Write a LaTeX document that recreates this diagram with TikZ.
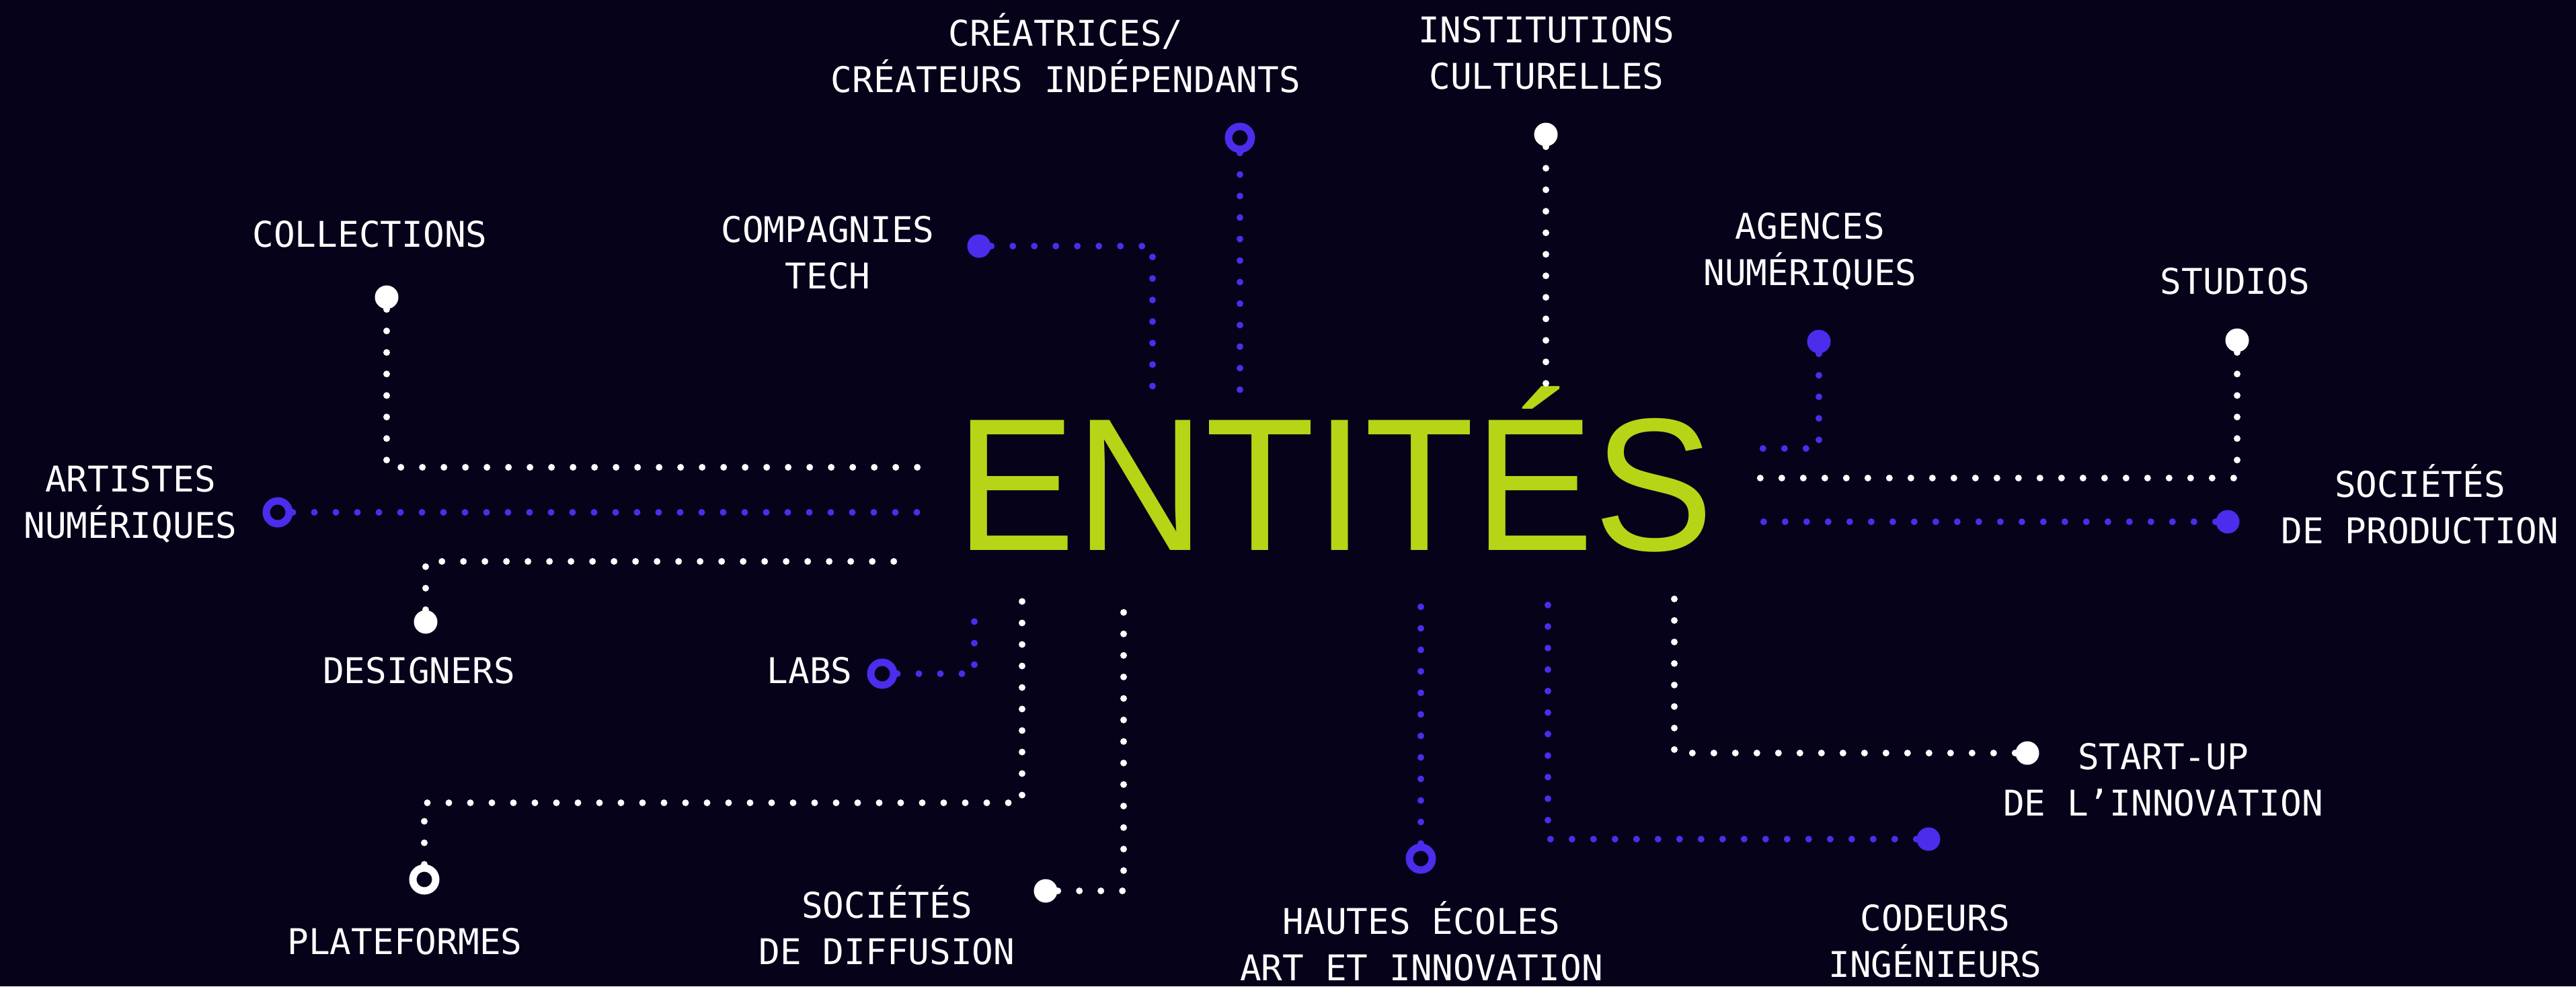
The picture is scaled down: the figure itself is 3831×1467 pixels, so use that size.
\documentclass[tikz,border=0pt]{standalone}
\usepackage{fontspec}
\usetikzlibrary{positioning,calc}
\newfontfamily\tagfont{DejaVu Sans Mono}
\newfontfamily\titlefont[FakeStretch=0.95]{Liberation Sans}
\definecolor{mynight}{RGB}{5,2,26}
\definecolor{myblue}{RGB}{75,45,235}
\definecolor{mygreen}{RGB}{184,212,22}

\begin{document}
\begin{tikzpicture}[x=0.1mm, y=-0.1mm,
  dotline/.style={line width=1mm, line cap=round, dash pattern=on 0pt off 3.2mm},
  fulldot/.style={circle, fill=#1, minimum size=3.5mm, inner sep=0pt},
  ringdot/.style={circle, draw=#1, line width=1.1mm, minimum size=3.4mm, inner sep=0pt},
  tag/.style={text=white, font=\tagfont\fontsize{15}{19.6}\selectfont, align=center, inner sep=0pt}]
\fill[mynight] (0,0) rectangle (3831,1467);
\useasboundingbox (0,0) rectangle (3831,1467);
\node[text=mygreen, font=\titlefont\fontsize{80}{80}\selectfont, anchor=base, inner sep=0pt] (title) at (1985,818) {ENTITÉS};

% end points
\node[fulldot=white ] (collections)  at (575,442)   {};
\node[ringdot=myblue] (artistes)     at (413,762)   {};
\node[fulldot=white ] (designers)    at (633,925)   {};
\node[ringdot=white ] (plateformes)  at (631,1308)  {};
\node[ringdot=myblue] (labs)         at (1312,1002) {};
\node[fulldot=white ] (diffusion)    at (1555,1325) {};
\node[fulldot=myblue] (compagnies)   at (1456,366)  {};
\node[ringdot=myblue] (createurs)    at (1844,205)  {};
\node[fulldot=white ] (institutions) at (2299,200)  {};
\node[fulldot=myblue] (agences)      at (2705,508)  {};
\node[fulldot=white ] (studios)      at (3327,506)  {};
\node[fulldot=myblue] (production)   at (3313,776)  {};
\node[fulldot=white ] (startup)      at (3015,1120) {};
\node[fulldot=myblue] (codeurs)      at (2868,1248) {};
\node[ringdot=myblue] (hautes)       at (2113,1277) {};

% labels
\node[tag] (tcollections)  at (550,348)   {COLLECTIONS};
\node[tag] (tartistes)     at (194,750)   {ARTISTES\\NUMÉRIQUES};
\node[tag] (tdesigners)    at (623,997)   {DESIGNERS};
\node[tag] (tplateformes)  at (602,1400)  {PLATEFORMES};
\node[tag] (tlabs)         at (1204,997)  {LABS};
\node[tag] (tdiffusion)    at (1319,1376) {SOCIÉTÉS\\DE DIFFUSION};
\node[tag] (tcompagnies)   at (1231,376)  {COMPAGNIES\\TECH};
\node[tag] (tcreateurs)    at (1585,79)   {CRÉATRICES/\\CRÉATEURS INDÉPENDANTS};
\node[tag] (tinstitutions) at (2300,79)   {INSTITUTIONS\\CULTURELLES};
\node[tag] (tagences)      at (2692,374)  {AGENCES\\NUMÉRIQUES};
\node[tag] (tstudios)      at (3324,418)  {STUDIOS};
\node[tag] (tproduction)   at (3599,750)  {SOCIÉTÉS\\DE PRODUCTION};
\node[tag] (tstartup)      at (3217,1160) {START-UP\\DE L’INNOVATION};
\node[tag] (tcodeurs)      at (2878,1400) {CODEURS\\INGÉNIEURS};
\node[tag] (thautes)       at (2114,1400) {HAUTES ÉCOLES\\ART ET INNOVATION};

% corners and loose ends of the dotted lines
\coordinate (collections1) at (575,695);  \coordinate (collections2) at (1375,695);
\coordinate (artistes1)    at (1375,762);
\coordinate (designers1)   at (633,835);  \coordinate (designers2)   at (1350,835);
\coordinate (plateformes1) at (631,1194); \coordinate (plateformes2) at (1520,1194);
\coordinate (plateformes3) at (1520,885);
\coordinate (labs1)        at (1449,1002); \coordinate (labs2)       at (1449,915);
\coordinate (diffusion1)   at (1671,1325); \coordinate (diffusion2)  at (1671,885);
\coordinate (compagnies1)  at (1714,366);  \coordinate (compagnies2) at (1714,585);
\coordinate (createurs1)   at (1844,590);
\coordinate (institutions1) at (2299,585);
\coordinate (agences1)     at (2705,667);  \coordinate (agences2)    at (2610,667);
\coordinate (studios1)     at (3327,711);  \coordinate (studios2)    at (2605,711);
\coordinate (production1)  at (2605,776);
\coordinate (startup1)     at (2490,1120); \coordinate (startup2)    at (2490,885);
\coordinate (codeurs1)     at (2302,1248); \coordinate (codeurs2)    at (2302,885);
\coordinate (hautes1)      at (2113,895);

\draw[dotline, white]  (collections) -- (collections1) -- (collections2);
\draw[dotline, myblue] (artistes) -- (artistes1);
\draw[dotline, white]  (designers) -- (designers1) -- (designers2);
\draw[dotline, white]  (plateformes) -- (plateformes1) -- (plateformes2) -- (plateformes3);
\draw[dotline, myblue] (labs) -- (labs1) -- (labs2);
\draw[dotline, white]  (diffusion) -- (diffusion1) -- (diffusion2);
\draw[dotline, myblue] (compagnies) -- (compagnies1) -- (compagnies2);
\draw[dotline, myblue] (createurs) -- (createurs1);
\draw[dotline, white]  (institutions) -- (institutions1);
\draw[dotline, myblue] (agences) -- (agences1) -- (agences2);
\draw[dotline, white]  (studios) -- (studios1) -- (studios2);
\draw[dotline, myblue] (production) -- (production1);
\draw[dotline, white]  (startup) -- (startup1) -- (startup2);
\draw[dotline, myblue] (codeurs) -- (codeurs1) -- (codeurs2);
\draw[dotline, myblue] (hautes) -- (hautes1);
\end{tikzpicture}
\end{document}
